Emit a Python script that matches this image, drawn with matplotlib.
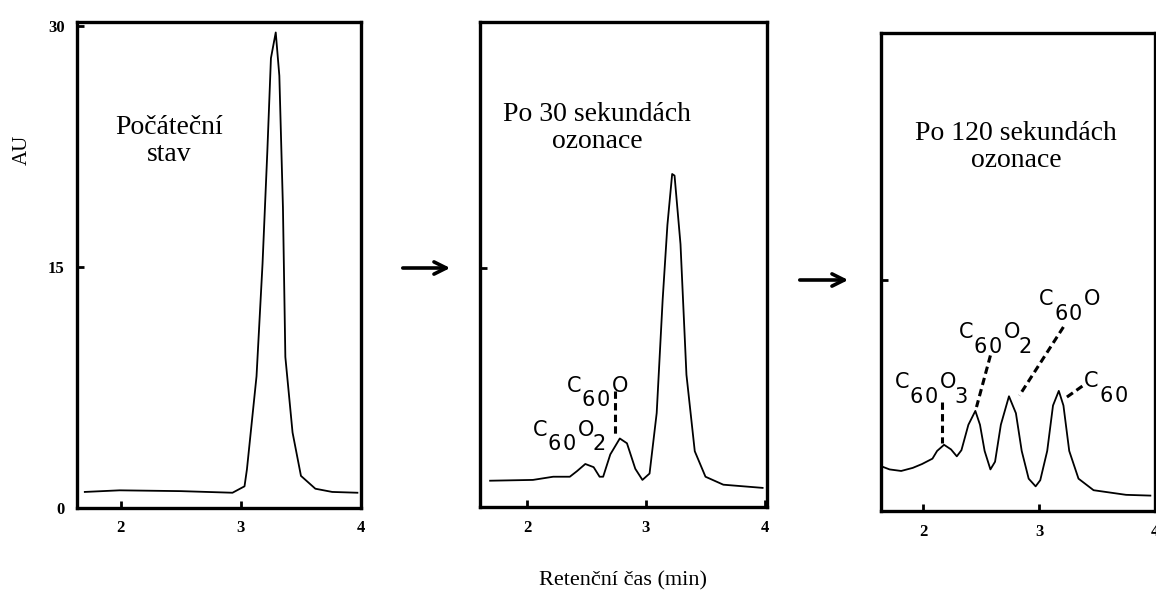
import matplotlib
matplotlib.use("Agg")
import matplotlib.pyplot as plt

# chromatogram traces (retention time in min, AU)
rt1 = [1.70, 1.99, 2.50, 2.93, 3.03, 3.05, 3.13, 3.18, 3.22, 3.25, 3.29, 3.32,
       3.35, 3.37, 3.43, 3.50, 3.62, 3.76, 3.97]
au1 = [1.0, 1.1, 1.05, 0.95, 1.35, 2.4, 8.2, 15.2, 22.2, 28.0, 29.6, 26.9,
       18.7, 9.4, 4.7, 2.0, 1.2, 1.0, 0.95]

rt2 = [1.69, 2.05, 2.22, 2.36, 2.42, 2.49, 2.56, 2.61, 2.64, 2.70, 2.78, 2.84,
       2.91, 2.97, 3.03, 3.09, 3.14, 3.18, 3.22, 3.24, 3.29, 3.34, 3.41, 3.50,
       3.65, 3.98]
au2 = [1.65, 1.7, 1.9, 1.9, 2.25, 2.7, 2.5, 1.9, 1.9, 3.3, 4.3, 4.0,
       2.4, 1.7, 2.1, 5.9, 13.0, 17.7, 20.9, 20.8, 16.5, 8.3, 3.5, 1.9,
       1.4, 1.2]

rt3 = [1.64, 1.71, 1.81, 1.91, 1.99, 2.08, 2.12, 2.18, 2.24, 2.29, 2.33, 2.39,
       2.45, 2.49, 2.53, 2.58, 2.62, 2.67, 2.74, 2.80, 2.85, 2.91, 2.97, 3.01,
       3.07, 3.12, 3.17, 3.21, 3.26, 3.34, 3.47, 3.75, 3.96]
au3 = [2.9, 2.7, 2.6, 2.8, 3.05, 3.4, 3.9, 4.3, 4.0, 3.55, 3.95, 5.6,
       6.5, 5.6, 3.9, 2.7, 3.2, 5.6, 7.45, 6.35, 3.9, 2.1, 1.6, 2.0,
       3.9, 6.85, 7.8, 6.85, 3.9, 2.1, 1.35, 1.05, 1.0]

titles = ["Počáteční\nstav", "Po 30 sekundách\nozonace", "Po 120 sekundách\nozonace"]
xticks = [2, 3, 4]

# peak labels: (formula, anchor x, anchor y)
labels2 = [("C60O", 2.336, 7.23), ("C60O2", 2.05, 4.47)]
labels3 = [("C60O3", 1.754, 7.99), ("C60O2", 2.305, 11.23),
           ("C60O", 3.0, 13.38), ("C60", 3.39, 8.05)]
# dashed leader lines: (x0, y0, x1, y1)
leaders2 = [(2.74, 7.3, 2.74, 4.5)]
leaders3 = [(2.16, 7.1, 2.16, 4.4), (2.58, 10.1, 2.46, 6.75),
            (3.21, 11.95, 2.83, 7.5), (3.24, 7.4, 3.39, 8.2)]

W, H = 1156, 590
fig = plt.figure(figsize=(W / 100, H / 100), dpi=100)


def px_axes(l, r, t, b):
    return fig.add_axes([l / W, 1 - b / H, (r - l) / W, (b - t) / H])


ax1 = px_axes(77, 361, 22, 508)
ax2 = px_axes(480, 767, 22, 507)
ax3 = px_axes(881, 1155, 33, 511)

ax1.set_xlim(1.635, 3.992)
ax1.set_ylim(0, 30.25)
ax2.set_xlim(1.605, 4.017)
ax2.set_ylim(0, 30.44)
ax3.set_xlim(1.636, 3.958)
ax3.set_ylim(0, 31.04)

serif = "Liberation Serif"

for ax, rt, au in [(ax1, rt1, au1), (ax2, rt2, au2), (ax3, rt3, au3)]:
    ax.plot(rt, au, color="black", lw=1.3)
    for s in ax.spines.values():
        s.set_linewidth(2.4)
    ax.set_xticks(xticks)
    ax.set_xticklabels([str(t) for t in xticks], fontfamily=serif,
                       fontweight="bold", fontsize=12)
    ax.tick_params(axis="both", direction="in", length=5, width=2, pad=9)

ax1.set_yticks([0, 15, 30])
ax1.set_yticklabels(["0", "15", "30"], fontfamily=serif, fontweight="bold",
                    fontsize=12)
ax2.set_yticks([15])
ax2.set_yticklabels([])
ax3.set_yticks([15])
ax3.set_yticklabels([])


def formula(ax, text, x, y, step=10.8, drop=10.5):
    for i, ch in enumerate(text):
        dy = -drop if ch.isdigit() else 0
        ax.annotate(ch, xy=(x, y), xytext=(i * step, dy),
                    textcoords="offset points", ha="left", va="baseline",
                    fontsize=15, fontfamily="DejaVu Sans")


for ax, labs, leads in [(ax2, labels2, leaders2), (ax3, labels3, leaders3)]:
    for text, x, y in labs:
        formula(ax, text, x, y)
    for x0, y0, x1, y1 in leads:
        ax.plot([x0, x1], [y0, y1], color="black", lw=2.2,
                ls=(0, (2.4, 1.4)))

# panel captions
fig.text(169 / W, 1 - 141 / H, titles[0], ha="center", va="center",
         fontsize=20, fontfamily=serif, linespacing=1.1)
fig.text(597 / W, 1 - 128 / H, titles[1], ha="center", va="center",
         fontsize=20, fontfamily=serif, linespacing=1.1)
fig.text(1016 / W, 1 - 147 / H, titles[2], ha="center", va="center",
         fontsize=20, fontfamily=serif, linespacing=1.1)

# arrows between panels
for x0, x1, y in [(400, 453, 268), (797, 851, 280)]:
    fig.patches.append(matplotlib.patches.FancyArrowPatch(
        (x0 / W, 1 - y / H), (x1 / W, 1 - y / H), transform=fig.transFigure,
        arrowstyle="->", mutation_scale=22, lw=2.6, color="black"))

fig.text(22 / W, 1 - 150 / H, "AU", rotation=90, ha="center", va="center",
         fontsize=15, fontfamily=serif)
fig.text(623 / W, 1 - 581 / H, "Retenční čas (min)", ha="center",
         va="center", fontsize=16, fontfamily=serif)

fig.savefig("out.png", dpi=100)
